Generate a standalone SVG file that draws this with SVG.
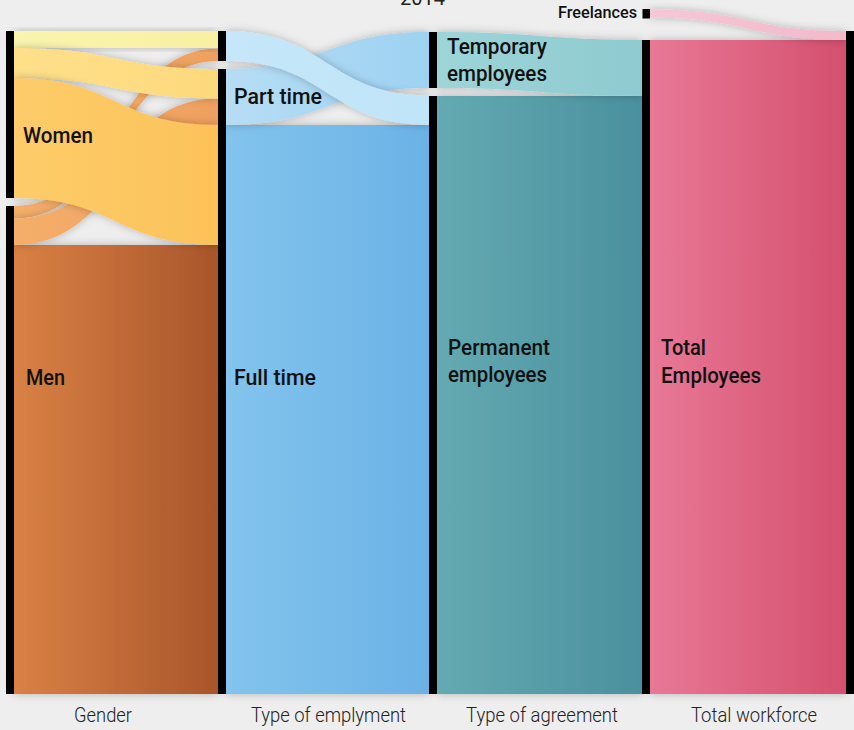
<svg xmlns="http://www.w3.org/2000/svg" width="854" height="730" viewBox="0 0 854 730">
<defs>
<style>
.lbl{font-family:Roboto,"Liberation Sans",sans-serif;font-size:22px;font-weight:500;fill:#111}
.ax{font-family:Roboto,"Liberation Sans",sans-serif;font-size:20px;font-weight:300;fill:#222;text-anchor:middle}
.node{fill:#000}
.lnk{filter:url(#sh)}
</style>
<filter id="sh" x="-20%" y="-20%" width="140%" height="140%">
<feDropShadow dx="0" dy="0" stdDeviation="4" flood-color="#000" flood-opacity="0.25"/>
</filter>
<linearGradient id="gPale"><stop offset="0" stop-color="#faf5ae"/><stop offset="1" stop-color="#f8f0a2"/></linearGradient>
<linearGradient id="gY2"><stop offset="0" stop-color="#fee08b"/><stop offset="1" stop-color="#fdd97c"/></linearGradient>
<linearGradient id="gY3"><stop offset="0" stop-color="#fdcc6a"/><stop offset="1" stop-color="#fcc259"/></linearGradient>
<linearGradient id="gOr"><stop offset="0" stop-color="#f5ae6a"/><stop offset="1" stop-color="#efa060"/></linearGradient>
<linearGradient id="gMen"><stop offset="0" stop-color="#d98145"/><stop offset="1" stop-color="#a9552a"/></linearGradient>
<linearGradient id="gPT"><stop offset="0" stop-color="#c5e7f9"/><stop offset="1" stop-color="#c0e4f8"/></linearGradient>
<linearGradient id="gFTT"><stop offset="0" stop-color="#b7ddf4"/><stop offset="1" stop-color="#9dd2f2"/></linearGradient>
<linearGradient id="gFT"><stop offset="0" stop-color="#82c4ed"/><stop offset="1" stop-color="#6bb2e6"/></linearGradient>
<linearGradient id="gTemp"><stop offset="0" stop-color="#9dd5d9"/><stop offset="1" stop-color="#8ecacf"/></linearGradient>
<linearGradient id="gPerm"><stop offset="0" stop-color="#64aab2"/><stop offset="1" stop-color="#4a909e"/></linearGradient>
<linearGradient id="gTE"><stop offset="0" stop-color="#e87896"/><stop offset="1" stop-color="#d4506e"/></linearGradient>
<linearGradient id="gFr"><stop offset="0" stop-color="#f7c6d6"/><stop offset="1" stop-color="#f2bacb"/></linearGradient>
</defs>
<rect width="854" height="730" fill="#eeeeee"/>
<text x="422.5" y="5" class="ax" style="font-weight:400" textLength="45" lengthAdjust="spacingAndGlyphs">2014</text>

<g id="connectors">
  <!-- Gender -> Type of employment -->
  <rect class="lnk" x="14" y="245" width="204" height="449" fill="url(#gMen)"/>
  <path class="lnk" d="M14 206 C116 206 116 48.5 218 48.5 L218 61 C116 61 116 218.5 14 218.5 Z" fill="url(#gOr)"/>
  <path class="lnk" d="M14 218.5 C116 218.5 116 98.5 218 98.5 L218 125 C116 125 116 245 14 245 Z" fill="url(#gOr)"/>
  <rect class="lnk" x="14" y="31" width="204" height="17" fill="url(#gPale)"/>
  <path class="lnk" d="M14 48 C116 48 116 69 218 69 L218 98.5 C116 98.5 116 78 14 78 Z" fill="url(#gY2)"/>
  <path class="lnk" d="M14 78 C116 78 116 125 218 125 L218 245 C116 245 116 198 14 198 Z" fill="url(#gY3)"/>
  <!-- Type of employment -> Type of agreement -->
  <rect class="lnk" x="226" y="125" width="203" height="569" fill="url(#gFT)"/>
  <path class="lnk" d="M226 69 C327.5 69 327.5 32 429 32 L429 88 C327.5 88 327.5 125 226 125 Z" fill="url(#gFTT)"/>
  <path class="lnk" d="M226 31 C327.5 31 327.5 95.5 429 95.5 L429 125 C327.5 125 327.5 61 226 61 Z" fill="url(#gPT)"/>
  <!-- Type of agreement -> Total workforce -->
  <rect class="lnk" x="437" y="96" width="205" height="598" fill="url(#gPerm)"/>
  <path class="lnk" d="M437 32 C539.5 32 539.5 40 642 40 L642 96 C539.5 96 539.5 88 437 88 Z" fill="url(#gTemp)"/>
  <!-- Employees / Freelances -> Workforce -->
  <rect class="lnk" x="650" y="40" width="196" height="654" fill="url(#gTE)"/>
  <path class="lnk" d="M650 9.5 C748 9.5 748 31 846 31 L846 40 C748 40 748 17.5 650 17.5 Z" fill="url(#gFr)"/>
</g>

<g id="node-women"><rect class="node" x="6" y="31" width="8" height="167"/><text class="lbl" x="23" y="143" textLength="70" lengthAdjust="spacingAndGlyphs">Women</text></g>
<g id="node-men"><rect class="node" x="6" y="206" width="8" height="488"/><text class="lbl" x="26" y="385" textLength="39" lengthAdjust="spacingAndGlyphs">Men</text></g>
<g id="node-parttime"><rect class="node" x="218" y="31" width="8" height="30"/><text class="lbl" x="234" y="104" textLength="88" lengthAdjust="spacingAndGlyphs">Part time</text></g>
<g id="node-fulltime"><rect class="node" x="218" y="69" width="8" height="625"/><text class="lbl" x="234" y="385" textLength="82" lengthAdjust="spacingAndGlyphs">Full time</text></g>
<g id="node-temporary"><rect class="node" x="429" y="32" width="8" height="56"/><text class="lbl" x="447" y="53.5" textLength="100" lengthAdjust="spacingAndGlyphs">Temporary</text><text class="lbl" x="447" y="81" textLength="100" lengthAdjust="spacingAndGlyphs">employees</text></g>
<g id="node-permanent"><rect class="node" x="429" y="96" width="8" height="598"/><text class="lbl" x="448" y="355" textLength="102" lengthAdjust="spacingAndGlyphs">Permanent</text><text class="lbl" x="448" y="382" textLength="99" lengthAdjust="spacingAndGlyphs">employees</text></g>
<g id="node-freelances"><rect class="node" x="642.5" y="9" width="7.5" height="9.5"/><text class="lbl" x="637" y="17.5" style="font-size:16px;text-anchor:end" textLength="79" lengthAdjust="spacingAndGlyphs">Freelances</text></g>
<g id="node-employees"><rect class="node" x="642" y="40" width="8" height="654"/><text class="lbl" x="661" y="355" textLength="45" lengthAdjust="spacingAndGlyphs">Total</text><text class="lbl" x="661" y="383" textLength="100" lengthAdjust="spacingAndGlyphs">Employees</text></g>
<g id="node-workforce"><rect class="node" x="846" y="31" width="8" height="663"/></g>

<g id="axis">
<text class="ax" x="103" y="722" textLength="58" lengthAdjust="spacingAndGlyphs">Gender</text>
<text class="ax" x="328.5" y="722" textLength="155" lengthAdjust="spacingAndGlyphs">Type of emplyment</text>
<text class="ax" x="542" y="722" textLength="152" lengthAdjust="spacingAndGlyphs">Type of agreement</text>
<text class="ax" x="754" y="722" textLength="126" lengthAdjust="spacingAndGlyphs">Total workforce</text>
</g>
</svg>
